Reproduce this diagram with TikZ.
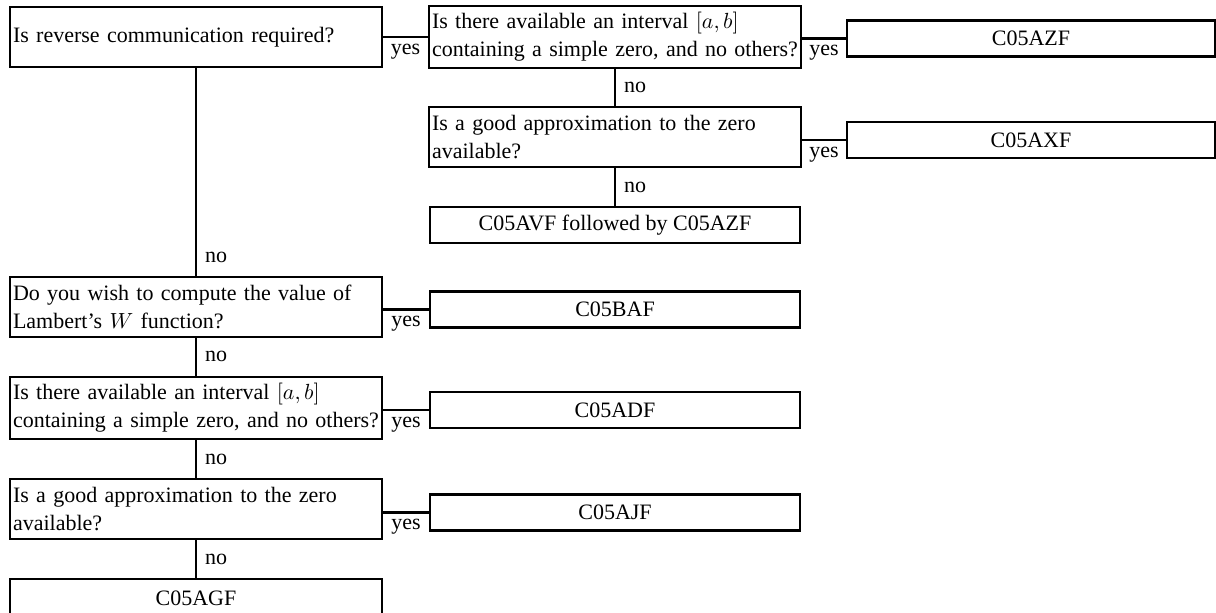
\documentclass[tikz,border=0pt]{standalone}
\usepackage{fontspec}
\setmainfont{Liberation Serif}
\usetikzlibrary{positioning,calc}

\begin{document}
\begin{tikzpicture}[x=0.5pt, y=-0.5pt, line width=1.1pt,
  question/.style={draw, minimum width=186pt, minimum height=30pt,
    text width=183pt, align=left, inner xsep=1.5pt,
    font=\fontsize{11}{14}\selectfont},
  answer/.style={draw, minimum width=185pt, minimum height=18pt,
    align=center, font=\fontsize{11}{14}\selectfont},
  yes/.style={below, midway, inner sep=3pt, font=\fontsize{11}{13}\selectfont},
  no/.style={right, midway, inner sep=4pt, font=\fontsize{11}{13}\selectfont}]
  \useasboundingbox (0,0) rectangle (1216,613);
  % questions
  \node[question] (q1) at (196,37)  {Is reverse communication required?};
  \node[question] (q2) at (615,37)  {Is there available an interval $[a,b]$\\containing a simple zero, and no others?};
  \node[question] (q3) at (615,137) {Is a good approximation to the zero\\available?};
  \node[question] (q4) at (196,307) {Do you wish to compute the value of\\Lambert's $W$ function?};
  \node[question] (q5) at (196,408) {Is there available an interval $[a,b]$\\containing a simple zero, and no others?};
  \node[question] (q6) at (196,509) {Is a good approximation to the zero\\available?};
  % routines
  \node[answer, minimum width=184pt] (azf) at (1031,38.5) {C05AZF};
  \node[answer, minimum width=184pt] (axf) at (1031,140)  {C05AXF};
  \node[answer] (avf) at (615,225)   {C05AVF followed by C05AZF};
  \node[answer] (baf) at (615,309.5) {C05BAF};
  \node[answer] (adf) at (615,410)   {C05ADF};
  \node[answer] (ajf) at (615,512.5) {C05AJF};
  \node[answer, minimum width=186pt, minimum height=19pt] (agf) at (196,598) {C05AGF};
  % yes branches
  \draw (q1.east |- q2.west) -- (q2.west) node[yes] {yes};
  \draw (q2.east |- azf.west) -- (azf.west) node[yes] {yes};
  \draw (q3.east |- axf.west) -- (axf.west) node[yes] {yes};
  \draw (q4.east |- baf.west) -- (baf.west) node[yes] {yes};
  \draw (q5.east |- adf.west) -- (adf.west) node[yes] {yes};
  \draw (q6.east |- ajf.west) -- (ajf.west) node[yes] {yes};
  % no branches
  \draw (q1.south) -- (q4.north) node[no, pos=0.91] {no};
  \draw (q2.south) -- (q3.north) node[no] {no};
  \draw (q3.south) -- (avf.north) node[no] {no};
  \draw (q4.south) -- (q5.north) node[no] {no};
  \draw (q5.south) -- (q6.north) node[no] {no};
  \draw (q6.south) -- (agf.north) node[no] {no};
\end{tikzpicture}
\end{document}
